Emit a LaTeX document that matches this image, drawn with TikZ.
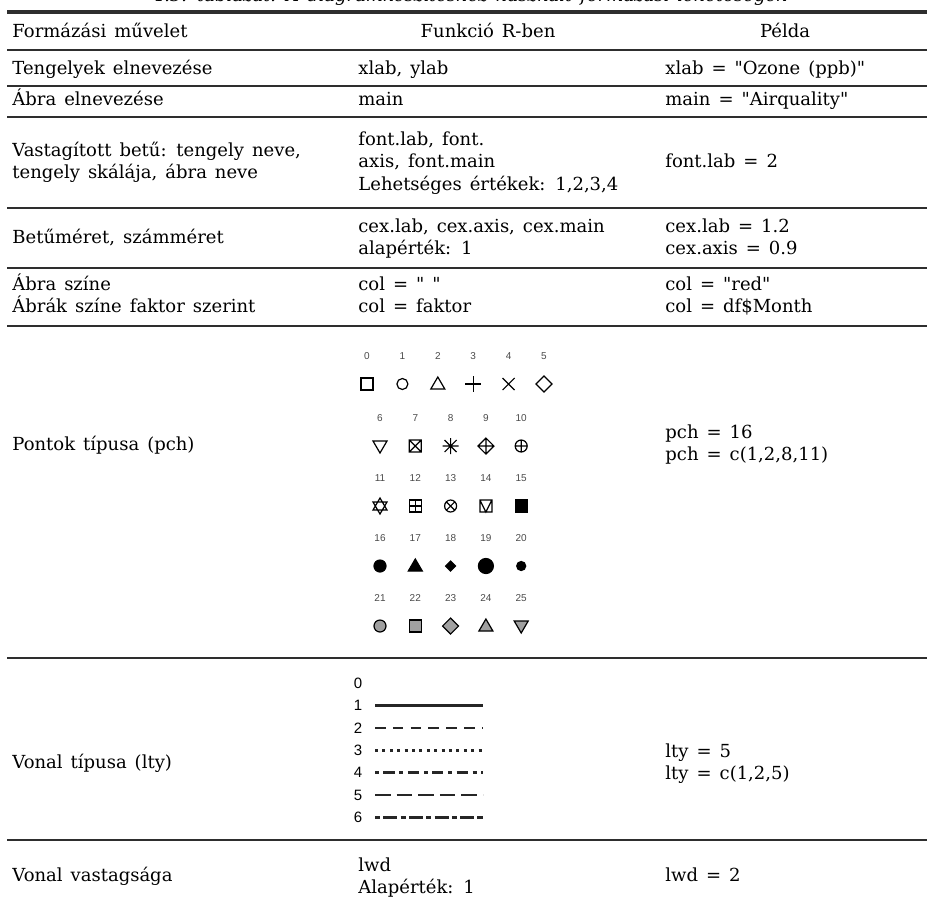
\documentclass[tikz,border=0pt]{standalone}
\usepackage{fontspec}
\setmainfont{DejaVu Serif}[Ligatures=TeXOff, WordSpace=1.4]
\setsansfont{Liberation Sans}
\usetikzlibrary{calc}
\definecolor{fg}{HTML}{000000}
\definecolor{rl}{HTML}{2E2E2E}
\definecolor{gy}{HTML}{A0A0A0}
\definecolor{nm}{HTML}{4A4A4A}

\tikzset{
  cell/.style={anchor=mid west, inner sep=0pt, font=\fontsize{9}{11}\selectfont},
  head/.style={anchor=mid, inner sep=0pt, font=\fontsize{9}{11}\selectfont},
  rule/.style={draw=rl, line width=0.8pt},
  pchnum/.style={inner sep=0pt, text=nm, font=\sffamily\fontsize{5}{6}\selectfont},
  ltynum/.style={inner sep=0pt, text=fg, font=\sffamily\fontsize{7.5}{8}\selectfont},
  pchsym/.style={draw=fg, line width=0.6pt},
  pchfill/.style={draw=fg, fill=fg, line width=0.6pt},
  pchgray/.style={draw=fg, fill=gy, line width=0.6pt},
  ltyline/.style={draw=fg!85, line width=1.3pt},
  lty1/.style={solid},
  lty2/.style={dash pattern=on 5.3pt off 3.6pt},
  lty3/.style={dash pattern=on 1.5pt off 2.2pt},
  lty4/.style={dash pattern=on 2pt off 2.2pt on 5.6pt off 2.4pt},
  lty5/.style={dash pattern=on 7.8pt off 3pt},
  lty6/.style={dash pattern=on 2.6pt off 1.6pt on 7pt off 1.6pt},
}

\begin{document}
\begin{tikzpicture}[x=0.5pt, y=-0.5pt]
  \useasboundingbox (0,0) rectangle (927,896);

  % caption, cut by the page edge
  \node[anchor=base, inner sep=0pt, font=\itshape\fontsize{9}{10}\selectfont] (cap) at (470,1)
    {4.3. táblázat. A diagramkészítéshez használt formázási lehetőségek};

  % rules
  \draw[rule, line width=1.6pt] (7,12) -- (927,12);
  \foreach \y in {50,86,117,208,268,326,658,840}
    \draw[rule] (7,\y) -- (927,\y);

  % header
  \node[cell] (h1) at (12,32) {Formázási művelet};
  \node[head] (h2) at (488,32) {Funkció R-ben};
  \node[head] (h3) at (785,32) {Példa};

  % rows
  \node[cell] (a1) at (12,69)  {Tengelyek elnevezése};
  \node[cell] (b1) at (358,69) {xlab, ylab};
  \node[cell] (c1) at (665,69) {xlab = "Ozone (ppb)"};

  \node[cell] (a2) at (12,100)  {Ábra elnevezése};
  \node[cell] (b2) at (358,100) {main};
  \node[cell] (c2) at (665,100) {main = "Airquality"};

  \node[cell] (a3) at (12,151)  {Vastagított betű: tengely neve,};
  \node[cell] (a3b) at (12,173) {tengely skálája, ábra neve};
  \node[cell] (b3) at (358,140)  {font.lab, font.};
  \node[cell] (b3b) at (358,162) {axis, font.main};
  \node[cell] (b3c) at (358,185) {Lehetséges értékek: 1,2,3,4};
  \node[cell] (c3) at (665,162) {font.lab = 2};

  \node[cell] (a4) at (12,238)  {Betűméret, számméret};
  \node[cell] (b4) at (358,227)  {cex.lab, cex.axis, cex.main};
  \node[cell] (b4b) at (358,249) {alapérték: 1};
  \node[cell] (c4) at (665,227)  {cex.lab = 1.2};
  \node[cell] (c4b) at (665,249) {cex.axis = 0.9};

  \node[cell] (a5) at (12,285)  {Ábra színe};
  \node[cell] (a5b) at (12,307) {Ábrák színe faktor szerint};
  \node[cell] (b5) at (358,285)  {col = " "};
  \node[cell] (b5b) at (358,307) {col = faktor};
  \node[cell] (c5) at (665,285)  {col = "red"};
  \node[cell] (c5b) at (665,307) {col = df\$Month};

  \node[cell] (a6) at (12,445)  {Pontok típusa (pch)};
  \node[cell] (c6) at (665,433)  {pch = 16};
  \node[cell] (c6b) at (665,455) {pch = c(1,2,8,11)};

  \node[cell] (a7) at (12,763)  {Vonal típusa (lty)};
  \node[cell] (c7) at (665,752)  {lty = 5};
  \node[cell] (c7b) at (665,774) {lty = c(1,2,5)};

  \node[cell] (a8) at (12,876)  {Vonal vastagsága};
  \node[cell] (b8) at (358,866)  {lwd};
  \node[cell] (b8b) at (358,888) {Alapérték: 1};
  \node[cell] (c8) at (665,876) {lwd = 2};

  % pch symbols
  \foreach \n in {0,...,5} {
    \coordinate (p\n) at ({367+35.4*\n},384);
    \node[pchnum] (n\n) at ({367+35.4*\n},356) {\n};
  }
  \foreach \n in {6,...,25} {
    \pgfmathtruncatemacro{\c}{mod(\n-6,5)}
    \pgfmathtruncatemacro{\r}{(\n-6)/5}
    \coordinate (p\n) at ({380+35.3*\c},{446+60*\r});
    \node[pchnum] (n\n) at ({380+35.3*\c},{418+60*\r}) {\n};
  }

  \draw[pchsym, shift={(p0)}] (-6,-6) rectangle (6,6);
  \draw[pchsym, shift={(p1)}] (0,0) circle (5.5);
  \draw[pchsym, shift={(p2)}] (-7,5) -- (7,5) -- (0,-7) -- cycle;
  \draw[pchsym, shift={(p3)}] (-8,0) -- (8,0) (0,-8) -- (0,8);
  \draw[pchsym, shift={(p4)}] (-6,-6) -- (6,6) (-6,6) -- (6,-6);
  \draw[pchsym, shift={(p5)}] (-8,0) -- (0,-8) -- (8,0) -- (0,8) -- cycle;

  \draw[pchsym, shift={(p6)}] (-7,-5) -- (7,-5) -- (0,7) -- cycle;
  \draw[pchsym, shift={(p7)}] (-6,-6) rectangle (6,6) (-6,-6) -- (6,6) (-6,6) -- (6,-6);
  \draw[pchsym, shift={(p8)}] (-8,0) -- (8,0) (0,-8) -- (0,8) (-6,-6) -- (6,6) (-6,6) -- (6,-6);
  \draw[pchsym, shift={(p9)}] (-8,0) -- (0,-8) -- (8,0) -- (0,8) -- cycle (-8,0) -- (8,0) (0,-8) -- (0,8);
  \draw[pchsym, shift={(p10)}] (0,0) circle (6) (-6,0) -- (6,0) (0,-6) -- (0,6);

  \draw[pchsym, shift={(p11)}] (-7,4) -- (7,4) -- (0,-8) -- cycle (-7,-4) -- (7,-4) -- (0,8) -- cycle;
  \draw[pchsym, shift={(p12)}] (-6,-6) rectangle (6,6) (-6,0) -- (6,0) (0,-6) -- (0,6);
  \draw[pchsym, shift={(p13)}] (0,0) circle (6) (-4.2,-4.2) -- (4.2,4.2) (-4.2,4.2) -- (4.2,-4.2);
  \draw[pchsym, shift={(p14)}] (-6,-6) rectangle (6,6) (-6,-6) -- (0,6) -- (6,-6);
  \draw[pchfill, shift={(p15)}] (-6,-6) rectangle (6,6);

  \draw[pchfill, shift={(p16)}] (0,0) circle (6);
  \draw[pchfill, shift={(p17)}] (-7,5) -- (7,5) -- (0,-7) -- cycle;
  \draw[pchfill, shift={(p18)}] (-5,0) -- (0,-5) -- (5,0) -- (0,5) -- cycle;
  \draw[pchfill, shift={(p19)}] (0,0) circle (7.5);
  \draw[pchfill, shift={(p20)}] (0,0) circle (4.5);

  \draw[pchgray, shift={(p21)}] (0,0) circle (6);
  \draw[pchgray, shift={(p22)}] (-6,-6) rectangle (6,6);
  \draw[pchgray, shift={(p23)}] (-8,0) -- (0,-8) -- (8,0) -- (0,8) -- cycle;
  \draw[pchgray, shift={(p24)}] (-7,5) -- (7,5) -- (0,-7) -- cycle;
  \draw[pchgray, shift={(p25)}] (-7,-5) -- (7,-5) -- (0,7) -- cycle;

  % lty lines
  \node[ltynum] (t0) at (358,683) {0};
  \foreach \k in {1,...,6} {
    \node[ltynum] (t\k) at (358,{683+22.4*\k}) {\k};
    \coordinate (ls\k) at (375,{683+22.4*\k});
    \coordinate (le\k) at (483,{683+22.4*\k});
    \draw[ltyline, lty\k] (ls\k) -- (le\k);
  }
\end{tikzpicture}
\end{document}
